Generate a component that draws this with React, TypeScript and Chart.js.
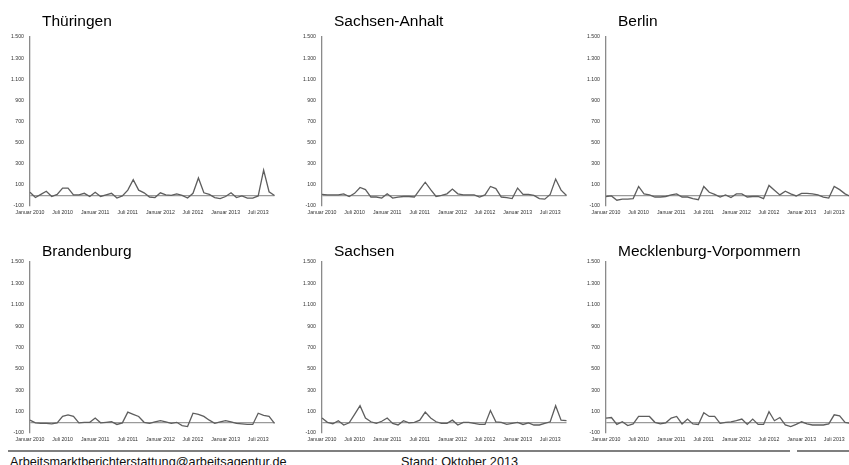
import React, { useEffect, useRef } from "react";
import { Chart, registerables } from "chart.js";

Chart.register(...registerables);

// ---------- data ----------
const MONTHS = [
  "Januar 2010", "Februar 2010", "März 2010", "April 2010", "Mai 2010", "Juni 2010",
  "Juli 2010", "August 2010", "September 2010", "Oktober 2010", "November 2010", "Dezember 2010",
  "Januar 2011", "Februar 2011", "März 2011", "April 2011", "Mai 2011", "Juni 2011",
  "Juli 2011", "August 2011", "September 2011", "Oktober 2011", "November 2011", "Dezember 2011",
  "Januar 2012", "Februar 2012", "März 2012", "April 2012", "Mai 2012", "Juni 2012",
  "Juli 2012", "August 2012", "September 2012", "Oktober 2012", "November 2012", "Dezember 2012",
  "Januar 2013", "Februar 2013", "März 2013", "April 2013", "Mai 2013", "Juni 2013",
  "Juli 2013", "August 2013", "September 2013", "Oktober 2013",
];

const X_TICK_SHOWN = [
  "Januar 2010", "Juli 2010", "Januar 2011", "Juli 2011",
  "Januar 2012", "Juli 2012", "Januar 2013", "Juli 2013",
];

const Y_TICK_VALUES = [-100, 100, 300, 500, 700, 900, 1100, 1300, 1500];
const Y_TICK_LABELS = ["-100", "100", "300", "500", "700", "900", "1.100", "1.300", "1.500"];

const TITLES = [
  "Thüringen", "Sachsen-Anhalt", "Berlin",
  "Brandenburg", "Sachsen", "Mecklenburg-Vorpommern",
];

const THUERINGEN = [30, -20, 10, 40, -10, 10, 70, 70, 5, 5, 20, -10, 30, -10, 5, 20, -25, -5, 50, 150, 50, 25, -15, -20, 25, 5, 0, 15, 0, -25, 20, 165, 25, 10, -20, -30, -10, 25, -20, -5, -25, -25, -5, 240, 35, 0];
const SACHSEN_ANHALT = [10, 5, 5, 5, 15, -10, 20, 75, 55, -15, -15, -25, 15, -25, -15, -10, -10, -15, 55, 125, 55, -10, 0, 15, 60, 15, 5, 5, 5, -15, 5, 85, 65, -15, -20, -30, 70, 10, 10, 0, -30, -35, 10, 155, 50, 0];
const BERLIN = [-10, -5, -45, -35, -35, -30, 85, 15, 5, -15, -15, -10, 5, 15, -15, -15, -30, -40, 85, 30, 10, -15, 5, -20, 15, 15, -15, -10, -10, -30, 95, 50, 5, 40, 15, -5, 20, 20, 15, 5, -15, -25, 85, 55, 15, -10];
const BRANDENBURG = [20, -5, -10, -10, -15, -5, 55, 70, 55, -5, 0, 0, 40, -5, 0, 5, -20, -5, 95, 75, 55, 0, -10, 5, 15, 5, -10, 0, -30, -40, 85, 75, 55, 20, -10, 5, 15, 5, -10, -15, -20, -20, 85, 65, 55, -10];
const SACHSEN = [40, 0, -15, 15, -25, -5, 75, 155, 40, 5, -10, 10, 40, -10, -25, 15, -5, 0, 20, 95, 40, 5, -10, -10, 20, -25, 0, 0, -10, -20, -20, 110, 5, 0, -20, -10, 0, -20, -5, -25, -25, -10, 5, 155, 20, 15];
const MECKLENBURG_VORPOMMERN = [40, 45, -20, 5, -30, -15, 55, 55, 55, 0, -15, -5, 40, 55, -15, 30, -15, -20, 90, 55, 55, -10, 0, 5, 15, 30, -20, 30, -20, -20, 100, 15, 45, -25, -40, -20, 5, -15, -25, -25, -25, -15, 70, 60, 0, -10];

const SERIES = [THUERINGEN, SACHSEN_ANHALT, BERLIN, BRANDENBURG, SACHSEN, MECKLENBURG_VORPOMMERN];

// ---------- layout ----------
const FONT = "'Liberation Sans', Arial, Helvetica, sans-serif";
const Y_AXIS_W = 30;
const PAD_TOP = 10;
const PAD_RIGHT = 2;
const X_AXIS_H = 12;
const PLOT_W = 246;
const COL_LEFT = [30, 322, 606];
const ROW_TOP = [37, 262];
const ROW_BOTTOM = [206, 433];
const TITLE_TOP = [13, 242.5];

function SmallChart({ idx }: { idx: number }) {
  const ref = useRef<HTMLCanvasElement | null>(null);
  const col = idx % 3;
  const row = Math.floor(idx / 3);
  const plotH = ROW_BOTTOM[row] - ROW_TOP[row];
  const cw = Y_AXIS_W + PLOT_W + PAD_RIGHT;
  const ch = PAD_TOP + plotH + X_AXIS_H;
  const left = COL_LEFT[col] - Y_AXIS_W;
  const top = ROW_TOP[row] - PAD_TOP;

  useEffect(() => {
    if (!ref.current) return;
    const chart = new Chart(ref.current, {
      type: "line",
      data: {
        labels: MONTHS,
        datasets: [
          {
            data: SERIES[idx],
            borderColor: "#5e5e5e",
            borderWidth: 1.3,
            pointRadius: 0,
            tension: 0,
            fill: false,
          },
        ],
      },
      options: {
        responsive: false,
        animation: false,
        devicePixelRatio: 1,
        layout: { padding: { top: PAD_TOP, right: PAD_RIGHT, left: 0, bottom: 0 } },
        plugins: {
          legend: { display: false },
          title: { display: false },
          tooltip: { enabled: false },
        },
        scales: {
          x: {
            type: "category",
            offset: false,
            grid: { display: false, drawTicks: false },
            border: { display: false },
            afterFit: (s: any) => {
              s.height = X_AXIS_H;
            },
            ticks: {
              autoSkip: false,
              maxRotation: 0,
              minRotation: 0,
              padding: 3.5,
              color: "#333333",
              font: { family: FONT, size: 5.2 },
              callback: (_v: any, i: number) => {
                const lab = MONTHS[i];
                return X_TICK_SHOWN.includes(lab) ? lab : "";
              },
            },
          },
          y: {
            min: -100,
            max: 1500,
            afterFit: (s: any) => {
              s.width = Y_AXIS_W;
            },
            grid: {
              drawTicks: false,
              lineWidth: 1.3,
              color: (c: any) => (c.tick && c.tick.value === 0 ? "#9a9a9a" : "rgba(0,0,0,0)"),
            },
            border: { display: true, color: "#8a8a8a", width: 1.3 },
            ticks: {
              stepSize: 100,
              autoSkip: false,
              padding: 6,
              color: "#333333",
              font: { family: FONT, size: 5.2 },
              callback: (v: any) => {
                const k = Y_TICK_VALUES.indexOf(Number(v));
                return k >= 0 ? Y_TICK_LABELS[k] : "";
              },
            },
          },
        },
      },
    } as any);
    return () => chart.destroy();
  }, [idx]);

  return (
    <>
      <canvas
        ref={ref}
        width={cw}
        height={ch}
        style={{ position: "absolute", left, top, width: cw, height: ch }}
      />
      <div
        style={{
          position: "absolute",
          left: COL_LEFT[col] + 12,
          top: TITLE_TOP[row],
          fontFamily: FONT,
          fontSize: 15.5,
          lineHeight: "15.5px",
          color: "#000",
          whiteSpace: "nowrap",
        }}
      >
        {TITLES[idx]}
      </div>
    </>
  );
}

export default function App() {
  return (
    <div
      style={{
        position: "absolute",
        left: 0,
        top: 0,
        width: 849,
        height: 465,
        overflow: "hidden",
        background: "#ffffff",
      }}
    >
      {[0, 1, 2, 3, 4, 5].map((i) => (
        <SmallChart key={i} idx={i} />
      ))}
      <div style={{ position: "absolute", left: 8, top: 450, width: 782, height: 2, background: "#7f7f7f" }} />
      <div style={{ position: "absolute", left: 797, top: 450, width: 52, height: 2, background: "#7f7f7f" }} />
      <div
        style={{
          position: "absolute",
          left: 10,
          top: 455.5,
          fontFamily: FONT,
          fontSize: 12.7,
          lineHeight: "12.7px",
          color: "#111",
          whiteSpace: "nowrap",
        }}
      >
        Arbeitsmarktberichterstattung@arbeitsagentur.de
      </div>
      <div
        style={{
          position: "absolute",
          left: 401,
          top: 455.5,
          fontFamily: FONT,
          fontSize: 12.7,
          lineHeight: "12.7px",
          color: "#111",
          whiteSpace: "nowrap",
        }}
      >
        Stand: Oktober 2013
      </div>
    </div>
  );
}
